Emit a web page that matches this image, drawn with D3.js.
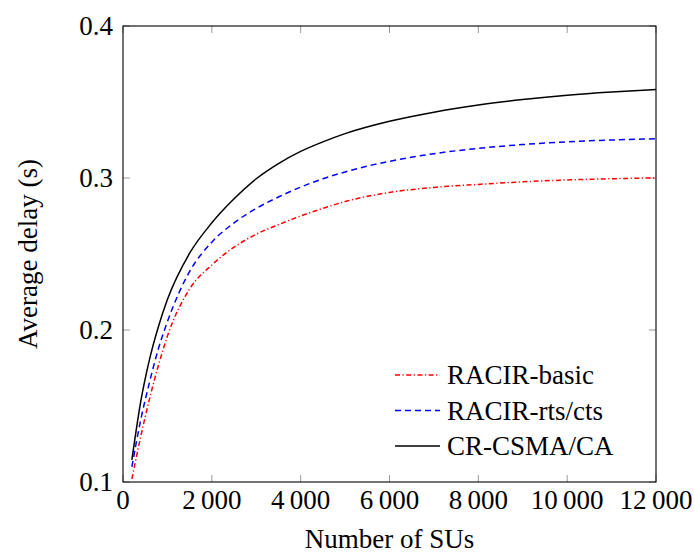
<!DOCTYPE html>
<html><head><meta charset="utf-8">
<script src="https://cdn.jsdelivr.net/npm/d3@7/dist/d3.min.js"></script>
<style>body{margin:0;background:#fff} text{font-family:"Liberation Serif","DejaVu Serif",serif;}</style>
</head><body>
<svg id="chart" width="694" height="554"></svg>
<script>
const xVals = [200,400,600,800,1000,1500,2000,2500,3000,3500,4000,4500,5000,6000,7000,8000,9000,10000,11000,12000];
const racirBasic = [0.102,0.130,0.155,0.177,0.196,0.2270,0.2428,0.2545,0.2630,0.2693,0.2750,0.2800,0.2845,0.2905,0.2938,0.2958,0.2975,0.2987,0.2995,0.3001];
const racirRtsCts = [0.110,0.141,0.166,0.188,0.2055,0.2385,0.2578,0.2705,0.2800,0.2875,0.2940,0.2995,0.3040,0.3110,0.3160,0.3195,0.3220,0.3238,0.3250,0.3258];
const crCsmaCa = [0.1145,0.153,0.181,0.2025,0.220,0.2505,0.2705,0.2863,0.2995,0.3095,0.3175,0.3238,0.3292,0.3373,0.3433,0.3480,0.3516,0.3545,0.3566,0.3582];
const xTicks = [0,2000,4000,6000,8000,10000,12000];
const yTicks = [0.1,0.2,0.3,0.4];
const seriesNames = ["RACIR-basic","RACIR-rts/cts","CR-CSMA/CA"];

const svg = d3.select("#chart");
const L=123,R=656,T=26,B=482;
const x = d3.scaleLinear().domain([0,12000]).range([L,R]);
const y = d3.scaleLinear().domain([0.1,0.4]).range([B,T]);
const FS = 27;
const fmtX = d => d===0 ? "0" : d3.format(",")(d).replace(/,/g,"\u2009");

const series = [
  {name:seriesNames[0], vals:racirBasic, color:"#ff0000", dash:"5,2.5,1.2,2.5"},
  {name:seriesNames[1], vals:racirRtsCts, color:"#0000ff", dash:"6,4"},
  {name:seriesNames[2], vals:crCsmaCa, color:"#000000", dash:null}
];

// ticks (inside, gray)
const tg = svg.append("g").attr("stroke","#999").attr("stroke-width",1);
xTicks.forEach(t=>{
  tg.append("line").attr("x1",x(t)).attr("x2",x(t)).attr("y1",B).attr("y2",B-7);
  tg.append("line").attr("x1",x(t)).attr("x2",x(t)).attr("y1",T).attr("y2",T+7);
});
yTicks.forEach(t=>{
  tg.append("line").attr("x1",L).attr("x2",L+7).attr("y1",y(t)).attr("y2",y(t));
  tg.append("line").attr("x1",R).attr("x2",R-7).attr("y1",y(t)).attr("y2",y(t));
});

// lines
const line = d3.line().x((d,i)=>x(xVals[i])).y(d=>y(d)).curve(d3.curveMonotoneX);
series.forEach(s=>{
  svg.append("path").attr("d",line(s.vals)).attr("fill","none")
    .attr("stroke",s.color).attr("stroke-width",1.5)
    .attr("stroke-dasharray",s.dash);
});

// frame
svg.append("rect").attr("x",L).attr("y",T).attr("width",R-L).attr("height",B-T)
  .attr("fill","none").attr("stroke","#000").attr("stroke-width",1.1);

// tick labels
xTicks.forEach(t=>{
  svg.append("text").attr("x",x(t)).attr("y",509).attr("text-anchor","middle")
    .attr("font-size",FS).text(fmtX(t));
});
yTicks.forEach(t=>{
  svg.append("text").attr("x",113).attr("y",y(t)+9).attr("text-anchor","end")
    .attr("font-size",FS).text(d3.format(".1f")(t));
});

// axis labels
svg.append("text").attr("x",(L+R)/2).attr("y",548).attr("text-anchor","middle")
  .attr("font-size",FS).text("Number of SUs");
svg.append("text").attr("transform",`translate(37,${(T+B)/2}) rotate(-90)`).attr("text-anchor","middle")
  .attr("font-size",FS).text("Average delay (s)");

// legend
series.forEach((s,i)=>{
  const yy = 375 + i*35.5;
  svg.append("line").attr("x1",395).attr("x2",440).attr("y1",yy).attr("y2",yy)
    .attr("stroke",s.color).attr("stroke-width",1.5).attr("stroke-dasharray",s.dash);
  svg.append("text").attr("x",447).attr("y",yy+9).attr("font-size",FS).text(s.name);
});
</script>
</body></html>
